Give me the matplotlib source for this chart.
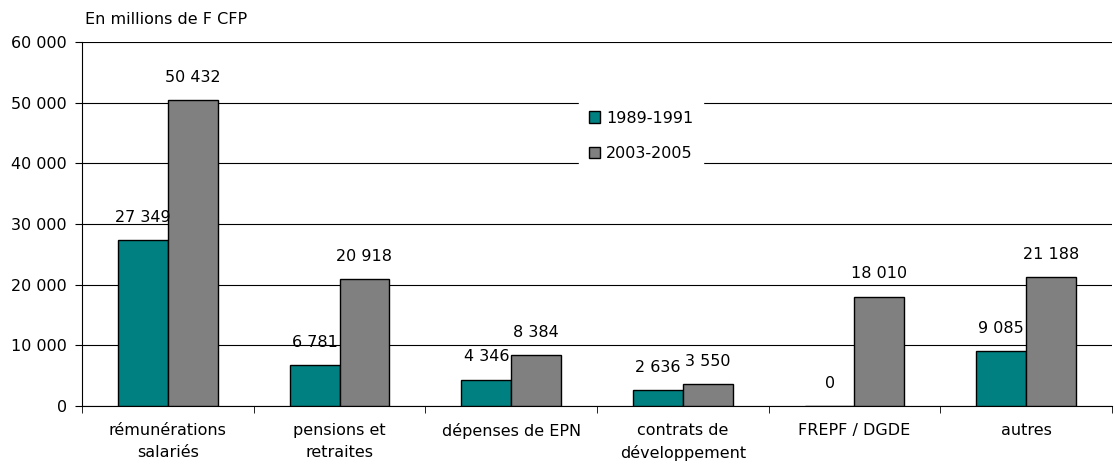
import matplotlib
matplotlib.use("Agg")
import matplotlib.pyplot as plt
import numpy as np
from matplotlib.ticker import FuncFormatter, FixedLocator

categories = ["rémunérations\nsalariés", "pensions et\nretraites", "dépenses de EPN",
              "contrats de\ndéveloppement", "FREPF / DGDE", "autres"]
series_names = ["1989-1991", "2003-2005"]
v1989 = [27349, 6781, 4346, 2636, 0, 9085]
v2003 = [50432, 20918, 8384, 3550, 18010, 21188]
colors = ["#008080", "#808080"]

FS = 11.5
plt.rcParams['font.family'] = ['DejaVu Sans']
fig = plt.figure(figsize=(11.15, 4.65), dpi=100)
ax = fig.add_axes([82/1115, 1-406/465, 1030/1115, (406-42)/465])

x = np.arange(len(categories))
w = 0.29
def fmt(v):
    return f"{int(v):,}".replace(",", " ")

b1 = ax.bar(x - w/2, v1989, w, color=colors[0], edgecolor="black", linewidth=1, label=series_names[0], zorder=3)
b2 = ax.bar(x + w/2, v2003, w, color=colors[1], edgecolor="black", linewidth=1, label=series_names[1], zorder=3)
for bars, vals in ((b1, v1989), (b2, v2003)):
    for r, v in zip(bars, vals):
        ax.annotate(fmt(v), (r.get_x() + r.get_width()/2, v), xytext=(0, 11),
                    textcoords="offset points", ha="center", va="bottom", fontsize=FS, zorder=4)

ax.set_xlim(-0.5, len(categories) - 0.5)
ax.set_ylim(0, 60000)
ax.set_yticks(np.arange(0, 60001, 10000))
ax.yaxis.set_major_formatter(FuncFormatter(lambda v, p: fmt(v)))
ax.grid(axis="y", color="black", linewidth=0.8, zorder=0)
ax.set_axisbelow(True)

ax.set_xticks(x)
ax.set_xticklabels(categories, fontsize=FS, linespacing=1.6)
ax.tick_params(axis="x", length=0, pad=12)
ax.xaxis.set_minor_locator(FixedLocator(np.arange(-0.5, len(categories), 1.0)))
ax.tick_params(axis="x", which="minor", length=5, direction="out")
ax.tick_params(axis="y", length=5, labelsize=FS, pad=6)

for s in ("top", "right"):
    ax.spines[s].set_visible(False)
ax.spines["left"].set_linewidth(0.8)
ax.spines["bottom"].set_linewidth(0.8)

leg = ax.legend(loc="upper left", bbox_to_anchor=(497/1030, (406-101)/364), frameon=True,
                fontsize=FS, handlelength=0.7, handleheight=0.7, handletextpad=0.4,
                labelspacing=1.3, borderpad=0.6, borderaxespad=0, fancybox=False)
leg.get_frame().set_edgecolor("white")
leg.get_frame().set_facecolor("white")
leg.get_frame().set_alpha(1)

fig.text(85/1115, 1-20/465, "En millions de F CFP", fontsize=FS, ha="left", va="center")

fig.savefig("out.png", dpi=100)
